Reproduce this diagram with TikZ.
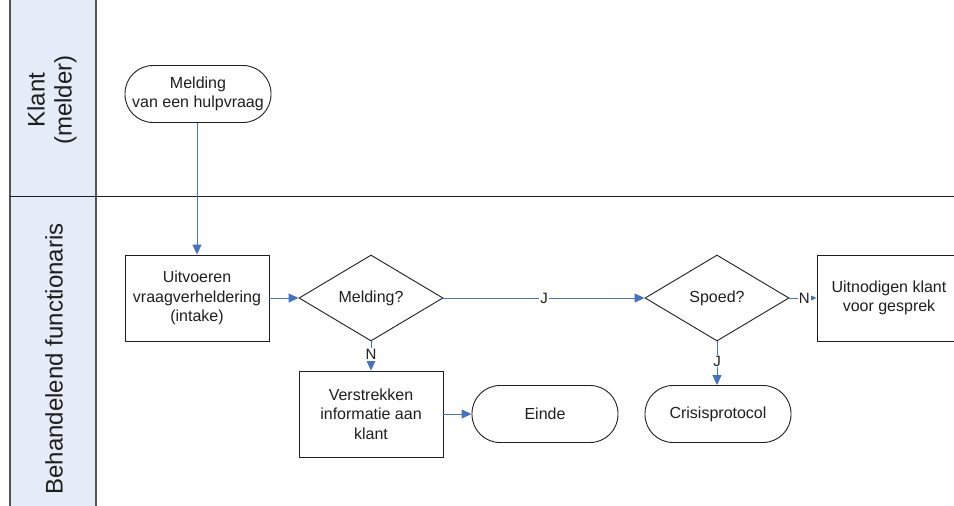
\documentclass[tikz,border=0pt]{standalone}
\usepackage{fontspec}
\setmainfont{Liberation Sans}
\usetikzlibrary{shapes.geometric,arrows.meta}
\definecolor{lanefill}{RGB}{229,235,247}
\definecolor{laneline}{RGB}{85,85,85}
\definecolor{flowblue}{RGB}{68,114,196}
\definecolor{inkcol}{RGB}{30,30,30}
\tikzset{
  base/.style={draw=inkcol, line width=0.9pt, text=inkcol, align=center,
    font=\fontsize{16}{19.5}\selectfont, inner sep=0pt},
  terminal/.style={base, rectangle, rounded corners=28pt,
    minimum width=146pt, minimum height=57pt},
  process/.style={base, rectangle, minimum width=144pt, minimum height=86pt},
  decision/.style={base, diamond, minimum width=144pt, minimum height=86pt},
  flow/.style={draw=flowblue, line width=1pt,
    -{Triangle[length=10pt,width=9pt]}},
  lbl/.style={fill=white, text=inkcol, inner sep=1pt,
    font=\fontsize{15}{15}\selectfont},
  lanetitle/.style={rotate=90, text=inkcol, align=center,
    font=\fontsize{24}{27}\selectfont}
}
\begin{document}
\begin{tikzpicture}[x=1pt, y=-1pt]
  \useasboundingbox (0,0) rectangle (954,506);
  % swimlane header column and lane separator
  \fill[lanefill] (10,0) rectangle (96,506);
  \draw[laneline, line width=1.6pt] (10,0) -- (10,506);
  \draw[laneline, line width=1.6pt] (96,0) -- (96,506);
  \draw[inkcol, line width=1pt] (10,196) -- (954,196);
  \node[lanetitle] (laneklant) at (52,100) {Klant\\(melder)};
  \node[lanetitle] (lanefunc) at (54,359) {Behandelend functionaris};

  % flow elements
  \node[terminal] (melding) at (198,94) {Melding\\van een hulpvraag};
  \node[process] (uitvoeren) at (197,298) {Uitvoeren\\vraagverheldering\\(intake)};
  \node[decision] (q1) at (371,298) {Melding?};
  \node[decision] (q2) at (717,298) {Spoed?};
  \node[process] (uitnodigen) at (889,298) {Uitnodigen klant\\voor gesprek};
  \node[process] (verstrekken) at (371,414) {Verstrekken\\informatie aan\\klant};
  \node[terminal] (einde) at (545,414) {Einde};
  \node[terminal] (crisis) at (718,414) {Crisisprotocol};

  % connectors
  \draw[flow] (melding.south -| uitvoeren.north) -- (uitvoeren.north);
  \draw[flow] (uitvoeren.east) -- (q1.west);
  \draw[flow] (q1.east) -- node[lbl] {J} (q2.west);
  \draw[flow] (q2.east) -- node[lbl, pos=0.55] {N} (uitnodigen.west);
  \draw[flow] (q1.south) -- node[lbl, pos=0.45] {N} (verstrekken.north);
  \draw[flow] (q2.south) -- node[lbl, pos=0.45] {J} (crisis.north -| q2.south);
  \draw[flow] (verstrekken.east) -- (einde.west);
\end{tikzpicture}
\end{document}
